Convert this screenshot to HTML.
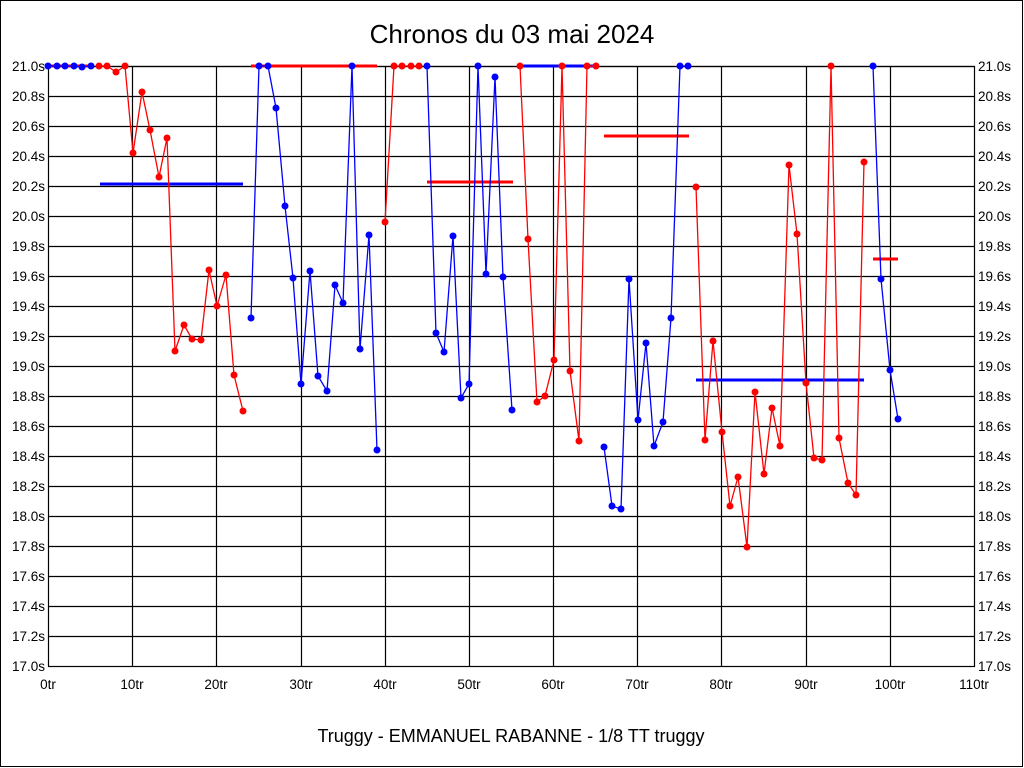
<!DOCTYPE html>
<html><head><meta charset="utf-8"><style>
html,body{margin:0;padding:0;background:#fff;}
svg{display:block;}
text{font-family:"Liberation Sans",sans-serif;fill:#000;}
</style></head><body>
<svg width="1024" height="768" viewBox="0 0 1024 768" xmlns="http://www.w3.org/2000/svg">
<rect x="0.5" y="0.5" width="1022" height="766" fill="#fff" stroke="#000" stroke-width="1"/>
<text x="512" y="43" font-size="26" text-anchor="middle">Chronos du 03 mai 2024</text>
<text x="511" y="742" font-size="18" text-anchor="middle">Truggy - EMMANUEL RABANNE - 1/8 TT truggy</text>
<g stroke="#000" stroke-width="1.2" fill="none" transform="translate(0.5,0.5)">
<rect x="48" y="66" width="926" height="600"/>
<path d="M48 66H974M48 96H974M48 126H974M48 156H974M48 186H974M48 216H974M48 246H974M48 276H974M48 306H974M48 336H974M48 366H974M48 396H974M48 426H974M48 456H974M48 486H974M48 516H974M48 546H974M48 576H974M48 606H974M48 636H974"/>
<path d="M132 66V666M216 66V666M301 66V666M385 66V666M469 66V666M553 66V666M637 66V666M721 66V666M806 66V666M890 66V666"/>
</g>
<g font-size="13.5" text-anchor="end">
<text x="45" y="71">21.0s</text><text x="45" y="101">20.8s</text><text x="45" y="131">20.6s</text><text x="45" y="161">20.4s</text><text x="45" y="191">20.2s</text><text x="45" y="221">20.0s</text><text x="45" y="251">19.8s</text><text x="45" y="281">19.6s</text><text x="45" y="311">19.4s</text><text x="45" y="341">19.2s</text><text x="45" y="371">19.0s</text><text x="45" y="401">18.8s</text><text x="45" y="431">18.6s</text><text x="45" y="461">18.4s</text><text x="45" y="491">18.2s</text><text x="45" y="521">18.0s</text><text x="45" y="551">17.8s</text><text x="45" y="581">17.6s</text><text x="45" y="611">17.4s</text><text x="45" y="641">17.2s</text><text x="45" y="671">17.0s</text>
</g>
<g font-size="13.5" text-anchor="start">
<text x="978" y="71">21.0s</text><text x="978" y="101">20.8s</text><text x="978" y="131">20.6s</text><text x="978" y="161">20.4s</text><text x="978" y="191">20.2s</text><text x="978" y="221">20.0s</text><text x="978" y="251">19.8s</text><text x="978" y="281">19.6s</text><text x="978" y="311">19.4s</text><text x="978" y="341">19.2s</text><text x="978" y="371">19.0s</text><text x="978" y="401">18.8s</text><text x="978" y="431">18.6s</text><text x="978" y="461">18.4s</text><text x="978" y="491">18.2s</text><text x="978" y="521">18.0s</text><text x="978" y="551">17.8s</text><text x="978" y="581">17.6s</text><text x="978" y="611">17.4s</text><text x="978" y="641">17.2s</text><text x="978" y="671">17.0s</text>
</g>
<g font-size="13.5" text-anchor="middle">
<text x="48" y="689">0tr</text><text x="132" y="689">10tr</text><text x="216" y="689">20tr</text><text x="301" y="689">30tr</text><text x="385" y="689">40tr</text><text x="469" y="689">50tr</text><text x="553" y="689">60tr</text><text x="637" y="689">70tr</text><text x="721" y="689">80tr</text><text x="806" y="689">90tr</text><text x="890" y="689">100tr</text><text x="974" y="689">110tr</text>
</g>
<g stroke-width="3" fill="none">
<path d="M48 66H93" stroke="#f00"/>
<path d="M100 184H243" stroke="#00f"/>
<path d="M251 66H377" stroke="#f00"/>
<path d="M427 182H513" stroke="#f00"/>
<path d="M520 66H597" stroke="#00f"/>
<path d="M604 136H689" stroke="#f00"/>
<path d="M696 380H864" stroke="#00f"/>
<path d="M873 259H898" stroke="#f00"/>
</g>
<g fill="none" stroke-width="1.3">
<polyline stroke="#00f" points="48,66 57,66 65,66 74,66 82,67 91,66"/>
<polyline stroke="#f00" points="99,66 107,66 116,72 125,66 133,153 142,92 150,130 159,177 167,138 175,351 184,325 192,339 201,340 209,270 217,306 226,275 234,375 243,411"/>
<polyline stroke="#00f" points="251,318 259,66 268,66 276,108 285,206 293,278 301,384 310,271 318,376 327,391 335,285 343,303 352,66 360,349 369,235 377,450"/>
<polyline stroke="#f00" points="385,222 394,66 402,66 411,66 419,66"/>
<polyline stroke="#00f" points="427,66 436,333 444,352 453,236 461,398 469,384 478,66 486,274 495,77 503,277 512,410"/>
<polyline stroke="#f00" points="520,66 528,239 537,402 545,396 554,360 562,66 570,371 579,441 587,66 596,66"/>
<polyline stroke="#00f" points="604,447 612,506 621,509 629,279 638,420 646,343 654,446 663,422 671,318 680,66 688,66"/>
<polyline stroke="#f00" points="696,187 705,440 713,341 722,432 730,506 738,477 747,547 755,392 764,474 772,408 780,446 789,165 797,234 806,383 814,458 822,460 831,66 839,438 848,483 856,495 864,162"/>
<polyline stroke="#00f" points="873,66 881,279 890,370 898,419"/>
</g>
<g fill="#00f">
<circle cx="48" cy="66" r="3.5"/><circle cx="57" cy="66" r="3.5"/><circle cx="65" cy="66" r="3.5"/><circle cx="74" cy="66" r="3.5"/><circle cx="82" cy="67" r="3.5"/><circle cx="91" cy="66" r="3.5"/>
<circle cx="251" cy="318" r="3.5"/><circle cx="259" cy="66" r="3.5"/><circle cx="268" cy="66" r="3.5"/><circle cx="276" cy="108" r="3.5"/><circle cx="285" cy="206" r="3.5"/><circle cx="293" cy="278" r="3.5"/><circle cx="301" cy="384" r="3.5"/><circle cx="310" cy="271" r="3.5"/><circle cx="318" cy="376" r="3.5"/><circle cx="327" cy="391" r="3.5"/><circle cx="335" cy="285" r="3.5"/><circle cx="343" cy="303" r="3.5"/><circle cx="352" cy="66" r="3.5"/><circle cx="360" cy="349" r="3.5"/><circle cx="369" cy="235" r="3.5"/><circle cx="377" cy="450" r="3.5"/>
<circle cx="427" cy="66" r="3.5"/><circle cx="436" cy="333" r="3.5"/><circle cx="444" cy="352" r="3.5"/><circle cx="453" cy="236" r="3.5"/><circle cx="461" cy="398" r="3.5"/><circle cx="469" cy="384" r="3.5"/><circle cx="478" cy="66" r="3.5"/><circle cx="486" cy="274" r="3.5"/><circle cx="495" cy="77" r="3.5"/><circle cx="503" cy="277" r="3.5"/><circle cx="512" cy="410" r="3.5"/>
<circle cx="604" cy="447" r="3.5"/><circle cx="612" cy="506" r="3.5"/><circle cx="621" cy="509" r="3.5"/><circle cx="629" cy="279" r="3.5"/><circle cx="638" cy="420" r="3.5"/><circle cx="646" cy="343" r="3.5"/><circle cx="654" cy="446" r="3.5"/><circle cx="663" cy="422" r="3.5"/><circle cx="671" cy="318" r="3.5"/><circle cx="680" cy="66" r="3.5"/><circle cx="688" cy="66" r="3.5"/>
<circle cx="873" cy="66" r="3.5"/><circle cx="881" cy="279" r="3.5"/><circle cx="890" cy="370" r="3.5"/><circle cx="898" cy="419" r="3.5"/>
</g>
<g fill="#f00">
<circle cx="99" cy="66" r="3.5"/><circle cx="107" cy="66" r="3.5"/><circle cx="116" cy="72" r="3.5"/><circle cx="125" cy="66" r="3.5"/><circle cx="133" cy="153" r="3.5"/><circle cx="142" cy="92" r="3.5"/><circle cx="150" cy="130" r="3.5"/><circle cx="159" cy="177" r="3.5"/><circle cx="167" cy="138" r="3.5"/><circle cx="175" cy="351" r="3.5"/><circle cx="184" cy="325" r="3.5"/><circle cx="192" cy="339" r="3.5"/><circle cx="201" cy="340" r="3.5"/><circle cx="209" cy="270" r="3.5"/><circle cx="217" cy="306" r="3.5"/><circle cx="226" cy="275" r="3.5"/><circle cx="234" cy="375" r="3.5"/><circle cx="243" cy="411" r="3.5"/>
<circle cx="385" cy="222" r="3.5"/><circle cx="394" cy="66" r="3.5"/><circle cx="402" cy="66" r="3.5"/><circle cx="411" cy="66" r="3.5"/><circle cx="419" cy="66" r="3.5"/>
<circle cx="520" cy="66" r="3.5"/><circle cx="528" cy="239" r="3.5"/><circle cx="537" cy="402" r="3.5"/><circle cx="545" cy="396" r="3.5"/><circle cx="554" cy="360" r="3.5"/><circle cx="562" cy="66" r="3.5"/><circle cx="570" cy="371" r="3.5"/><circle cx="579" cy="441" r="3.5"/><circle cx="587" cy="66" r="3.5"/><circle cx="596" cy="66" r="3.5"/>
<circle cx="696" cy="187" r="3.5"/><circle cx="705" cy="440" r="3.5"/><circle cx="713" cy="341" r="3.5"/><circle cx="722" cy="432" r="3.5"/><circle cx="730" cy="506" r="3.5"/><circle cx="738" cy="477" r="3.5"/><circle cx="747" cy="547" r="3.5"/><circle cx="755" cy="392" r="3.5"/><circle cx="764" cy="474" r="3.5"/><circle cx="772" cy="408" r="3.5"/><circle cx="780" cy="446" r="3.5"/><circle cx="789" cy="165" r="3.5"/><circle cx="797" cy="234" r="3.5"/><circle cx="806" cy="383" r="3.5"/><circle cx="814" cy="458" r="3.5"/><circle cx="822" cy="460" r="3.5"/><circle cx="831" cy="66" r="3.5"/><circle cx="839" cy="438" r="3.5"/><circle cx="848" cy="483" r="3.5"/><circle cx="856" cy="495" r="3.5"/><circle cx="864" cy="162" r="3.5"/>
</g>
</svg>
</body></html>
